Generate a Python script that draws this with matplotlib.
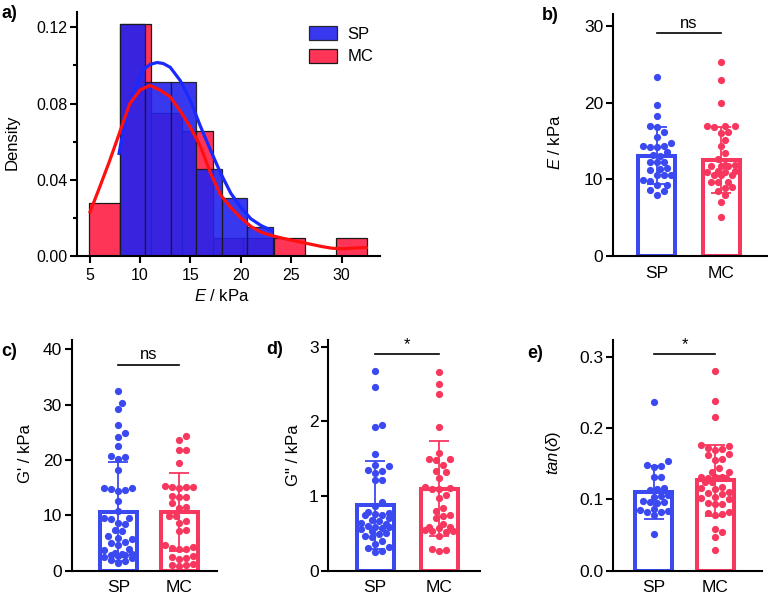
import numpy as np
import matplotlib.pyplot as plt
from matplotlib.ticker import MultipleLocator

plt.rcParams['font.family'] = ['Liberation Sans', 'DejaVu Sans']
plt.rcParams['mathtext.fontset'] = 'custom'
plt.rcParams['mathtext.rm'] = 'Liberation Sans'
plt.rcParams['mathtext.it'] = 'Liberation Sans:italic'
plt.rcParams['font.size'] = 12

# ---- panel a: histogram of E (density) with fitted curves ----
sp_edges = [8.0, 10.52, 13.05, 15.58, 18.1, 20.63, 23.15]
sp_dens = [0.1216, 0.0913, 0.0913, 0.0455, 0.0303, 0.0150]
mc_edges = [4.98, 8.03, 11.09, 14.14, 17.2, 20.25, 23.31, 26.36, 29.42, 32.47]
mc_dens = [0.028, 0.1216, 0.0749, 0.0656, 0.0094, 0.0094, 0.0094, 0.0, 0.0094]

sp_fit_x = [7.9, 8.4, 9.0, 9.7, 10.3, 11.0, 11.7, 12.3, 13.0, 14.0, 15.0, 16.0,
            17.0, 18.0, 19.0, 20.0, 21.0, 22.0, 23.2]
sp_fit_y = [0.053, 0.067, 0.080, 0.090, 0.0975, 0.1005, 0.1015, 0.101, 0.099, 0.092,
            0.0815, 0.068, 0.0555, 0.0435, 0.033, 0.0255, 0.0195, 0.016, 0.013]
mc_fit_x = [5.0, 6.0, 7.0, 8.0, 9.0, 10.0, 11.0, 12.0, 13.0, 14.0, 15.0, 16.0, 17.0,
            18.0, 19.0, 20.0, 21.0, 22.0, 23.0, 24.0, 25.0, 26.0, 27.0, 28.0, 29.0,
            30.0, 31.0, 32.6]
mc_fit_y = [0.0224, 0.036, 0.050, 0.065, 0.080, 0.087, 0.0895, 0.087, 0.0835, 0.076,
            0.0675, 0.0575, 0.0435, 0.032, 0.0255, 0.020, 0.0155, 0.0125, 0.0108,
            0.0095, 0.0083, 0.0072, 0.0061, 0.005, 0.0041, 0.0038, 0.0041, 0.0045]

groups = ['SP', 'MC']

# ---- panel b: E / kPa ----
E_sp = [23.3, 19.7, 18.3, 16.9, 16.8, 16.2, 15.5, 14.8, 14.3, 14.3, 14.2, 14.2, 13.6,
        13.2, 13.1, 12.3, 12.2, 12.2, 11.5, 11.4, 11.2, 10.6, 10.6, 10.5, 9.9, 9.8,
        9.3, 9.2, 8.6, 8.5, 8.0]
E_mc = [25.3, 22.9, 20.0, 17.0, 16.9, 16.9, 16.8, 16.2, 16.1, 15.1, 14.3, 13.4, 12.7,
        11.9, 11.9, 11.8, 11.8, 11.8, 11.1, 11.1, 11.0, 11.0, 10.6, 10.5, 10.5, 9.7,
        9.7, 9.6, 9.0, 8.9, 8.5, 7.9, 7.1, 5.1]
E_mean = [13.1, 12.5]
E_sd = [3.7, 4.3]

# ---- panel c: G' / kPa ----
Gp_sp = [32.4, 30.4, 29.2, 26.4, 24.9, 24.2, 22.6, 20.7, 20.5, 20.2, 18.2, 15.0, 14.9,
         14.8, 14.6, 14.4, 12.6, 10.8, 9.6, 9.5, 9.4, 8.6, 8.4, 7.4, 7.2, 6.2, 6.0,
         5.8, 5.2, 5.0, 4.6, 4.0, 3.8, 3.2, 3.1, 3.0, 2.9, 2.8, 2.7, 2.5, 2.3, 2.0,
         1.8, 1.4]
Gp_mc = [24.3, 23.7, 21.9, 21.8, 19.4, 15.3, 15.2, 15.2, 15.1, 15.0, 13.5, 13.4, 13.3,
         12.2, 11.5, 11.3, 9.9, 9.8, 8.9, 8.7, 7.3, 7.2, 4.6, 4.3, 4.1, 4.0, 3.9, 2.6,
         2.4, 2.3, 2.2, 1.2, 1.0, 1.0, 0.9]
Gp_mean = [10.7, 10.6]
Gp_sd = [8.9, 7.1]

# ---- panel d: G'' / kPa ----
Gpp_sp = [2.68, 2.46, 1.95, 1.93, 1.56, 1.42, 1.40, 1.35, 1.33, 1.31, 1.22, 1.21, 0.92,
          0.86, 0.78, 0.77, 0.76, 0.75, 0.74, 0.70, 0.68, 0.66, 0.64, 0.62, 0.60, 0.59,
          0.58, 0.57, 0.56, 0.53, 0.50, 0.49, 0.47, 0.45, 0.40, 0.36, 0.32, 0.30, 0.27,
          0.25]
Gpp_mc = [2.66, 2.50, 2.37, 1.93, 1.57, 1.50, 1.49, 1.48, 1.41, 1.33, 1.32, 1.24, 1.12,
          1.11, 1.10, 1.10, 1.02, 0.97, 0.84, 0.80, 0.74, 0.73, 0.70, 0.62, 0.59, 0.58,
          0.57, 0.55, 0.53, 0.53, 0.52, 0.47, 0.29, 0.28, 0.27]
Gpp_mean = [0.88, 1.10]
Gpp_sd = [0.59, 0.64]

# ---- panel e: tan(delta) ----
tan_sp = [0.237, 0.154, 0.148, 0.147, 0.146, 0.132, 0.131, 0.116, 0.115, 0.113, 0.106,
          0.105, 0.104, 0.098, 0.097, 0.096, 0.095, 0.086, 0.085, 0.084, 0.083, 0.082,
          0.078, 0.052]
tan_mc = [0.280, 0.239, 0.216, 0.176, 0.175, 0.173, 0.171, 0.170, 0.164, 0.162, 0.157,
          0.155, 0.144, 0.139, 0.138, 0.132, 0.131, 0.131, 0.130, 0.130, 0.130, 0.125,
          0.124, 0.117, 0.116, 0.115, 0.110, 0.109, 0.108, 0.103, 0.102, 0.101, 0.095,
          0.094, 0.093, 0.082, 0.081, 0.080, 0.078, 0.058, 0.055, 0.048, 0.029]
tan_mean = [0.110, 0.127]
tan_sd = [0.037, 0.050]

blue_bar = '#3b49f0'
red_bar = '#f8375f'

W, H = 768, 595
fig = plt.figure(figsize=(7.68, 5.95), dpi=100)


def box(l, t, r, b):
    return fig.add_axes([l / W, 1 - b / H, (r - l) / W, (b - t) / H])


def style(ax, size):
    for s in ['top', 'right']:
        ax.spines[s].set_visible(False)
    for s in ['left', 'bottom']:
        ax.spines[s].set_linewidth(1.5)
    ax.tick_params(direction='out', width=1.5, length=5, pad=2, labelsize=size)


def swarm(vals, ypx, dpx, maxw):
    # horizontal offsets (pixels) so dots don't sit on top of each other
    vals = np.asarray(vals, float)
    offs = np.zeros(len(vals))
    placed = []
    steps = [0.0]
    k = 1
    while k * dpx * 0.5 <= maxw:
        steps += [k * dpx * 0.5, -k * dpx * 0.5]
        k += 1
    for i in np.argsort(vals):
        y = vals[i] * ypx
        best, bestd = 0.0, -1
        for c in steps:
            d = min([np.hypot(c - px, y - py) for px, py in placed] or [1e9])
            if d >= dpx:
                best = c
                break
            if d > bestd:
                best, bestd = c, d
        offs[i] = best
        placed.append((best, y))
    return offs


def dot_bar(pix, xlim, ylim, data, means, sds, sig, sig_y, ytick_step, ylabel, ylab_pos):
    l, t, r, b = pix
    ax = box(l, t, r, b)
    style(ax, 12.5)
    ax.set_xlim(*xlim)
    ax.set_ylim(*ylim)
    xpx = (r - l) / (xlim[1] - xlim[0])
    ypx = (b - t) / (ylim[1] - ylim[0])
    bw = 37 / xpx
    for i, (vals, col) in enumerate(zip(data, [blue_bar, red_bar])):
        ax.bar(i, means[i], width=bw, facecolor='white', edgecolor=col, linewidth=2.9, zorder=1)
        offs = swarm(vals, ypx, 7.0, 15.5) / xpx
        ax.scatter(i + offs, vals, s=27, color=col, linewidths=0, zorder=2, clip_on=False)
        ax.errorbar(i, means[i], yerr=sds[i], color=col, capsize=7, elinewidth=1.3,
                    capthick=1.3, zorder=3)
    ax.plot([0, 1], [sig_y, sig_y], color='black', lw=1.2, clip_on=False)
    ax.text(0.5, sig_y + 2.5 / ypx, sig, ha='center', va='bottom', fontsize=12)
    ax.set_xticks([0, 1])
    ax.set_xticklabels(groups)
    ax.tick_params(axis='x', length=0, pad=7)
    ax.yaxis.set_major_locator(MultipleLocator(ytick_step))
    ax.set_ylabel(ylabel, fontsize=12)
    ax.yaxis.set_label_coords(ylab_pos[0] / W, 1 - ylab_pos[1] / H, transform=fig.transFigure)
    return ax


# panel a
ax = box(77, 12, 380, 256)
style(ax, 11.5)
ax.bar(mc_edges[:-1], mc_dens, width=np.diff(mc_edges), align='edge', color='#ff3558',
       edgecolor='#1a1a1a', linewidth=0.9, label='MC', zorder=1)
ax.bar(sp_edges[:-1], sp_dens, width=np.diff(sp_edges), align='edge', color='#2222ee',
       alpha=0.9, edgecolor='#1a1a1a', linewidth=0.9, label='SP', zorder=2)
ax.plot(sp_fit_x, sp_fit_y, color='#1a2aff', lw=2.3, zorder=3, solid_capstyle='butt')
ax.plot(mc_fit_x, mc_fit_y, color='#ff1010', lw=2.3, zorder=4, solid_capstyle='butt')
ax.set_xlim(3.76, 33.8)
ax.set_ylim(0, 0.128)
ax.set_xticks([5, 10, 15, 20, 25, 30])
ax.set_yticks([0, 0.04, 0.08, 0.12])
ax.set_yticklabels(['0.00', '0.04', '0.08', '0.12'])
ax.yaxis.set_minor_locator(MultipleLocator(0.02))
ax.tick_params(which='minor', direction='out', width=1.5, length=3)
ax.tick_params(axis='x', pad=3.5)
ax.set_ylabel('Density', fontsize=12)
ax.yaxis.set_label_coords(20 / W, 1 - 142 / H, transform=fig.transFigure)
ax.set_xlabel(r'$\mathit{E}$ / kPa', fontsize=12)
ax.xaxis.set_label_coords(222 / W, 1 - 288 / H, transform=fig.transFigure)
h, lab = ax.get_legend_handles_labels()
ax.legend(h[::-1], lab[::-1], loc='upper left', bbox_to_anchor=(0.727, 0.99), frameon=False,
          handlelength=1.7, handleheight=0.9, labelspacing=0.42, handletextpad=0.6,
          borderpad=0.2, fontsize=12)

# panels b-e
dot_bar((613, 14, 767, 256), (-0.68, 1.715), (0, 31.56), [E_sp, E_mc], E_mean, E_sd,
        'ns', 29.05, 10, r'$\mathit{E}$ / kPa', (563, 142))
dot_bar((71.7, 340, 216.7, 570.7), (-0.765, 1.616), (0, 41.7), [Gp_sp, Gp_mc], Gp_mean,
        Gp_sd, 'ns', 37.2, 10, "G' / kPa", (33, 454))
dot_bar((328.3, 340, 480, 570.7), (-0.735, 1.64), (0, 3.09), [Gpp_sp, Gpp_mc], Gpp_mean,
        Gpp_sd, '*', 2.90, 1, 'G" / kPa', (301, 455))
axe = dot_bar((613.3, 340, 762, 570.7), (-0.667, 1.77), (0, 0.324), [tan_sp, tan_mc],
              tan_mean, tan_sd, '*', 0.304, 0.1, r'$\mathit{tan(\delta)}$', (563, 453))
axe.yaxis.set_major_formatter(plt.FormatStrFormatter('%.1f'))

for txt, x, y in [('a)', 1, 14), ('b)', 542, 15), ('c)', 1, 351), ('d)', 266, 349),
                  ('e)', 527, 354)]:
    fig.text(x / W, 1 - y / H, txt, fontsize=13, fontweight='bold', va='center', ha='left')

fig.savefig('out.png', dpi=100)
